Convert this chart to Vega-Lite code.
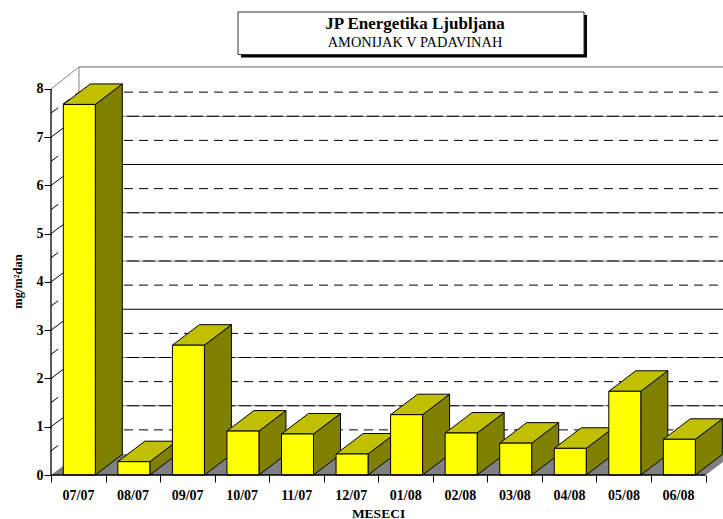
{
"$schema":"https://vega.github.io/schema/vega-lite/v6.json",
"autosize":{"type":"none"},
"padding":{"left":51,"top":60,"right":0,"bottom":44},
"width":672,"height":415,
"background":"white",
"view":{"stroke":null},
"title":{"text":"JP Energetika Ljubljana","subtitle":"AMONIJAK V PADAVINAH","font":"Liberation Serif","fontSize":17,"fontWeight":"bold","subtitleFont":"Liberation Serif","subtitleFontSize":14.4,"subtitleFontWeight":"normal","subtitleColor":"black","color":"black","anchor":"middle","frame":"group","dx":28,"offset":-39,"subtitlePadding":3},
"datasets":{
"bars":[
{"mesec":"07/07","v":7.68},{"mesec":"08/07","v":0.276},{"mesec":"09/07","v":2.69},{"mesec":"10/07","v":0.91},{"mesec":"11/07","v":0.85},{"mesec":"12/07","v":0.435},{"mesec":"01/08","v":1.25},{"mesec":"02/08","v":0.87},{"mesec":"03/08","v":0.66},{"mesec":"04/08","v":0.553},{"mesec":"05/08","v":1.735},{"mesec":"06/08","v":0.74}],
"half":[{"g":0.5},{"g":1.5},{"g":2.5},{"g":3.5},{"g":4.5},{"g":5.5},{"g":6.5},{"g":7.5}],
"whole":[{"g":1},{"g":2},{"g":3},{"g":4},{"g":5},{"g":6},{"g":7}],
"mix":[{"g":1},{"g":2},{"g":4},{"g":5},{"g":7}],
"solid":[{"g":3},{"g":6}]
},
"layer":[
{"data":{"values":[{"t":0},{"t":1}]},
 "transform":[{"calculate":"datum.t*0.435","as":"fy"},{"calculate":"datum.t*0.513","as":"fx"},{"calculate":"12+datum.t*0.513","as":"fx2"}],
 "mark":{"type":"area","orient":"horizontal","color":"#808080","clip":true},
 "encoding":{
  "y":{"field":"fy","type":"quantitative","scale":{"domain":[0,8.601],"nice":false,"zero":false},
   "axis":{"values":[0,1,2,3,4,5,6,7,8],"grid":false,"domain":false,"tickSize":7,"tickColor":"black","labelPadding":1,"labelFont":"Liberation Serif","labelFontSize":14,"labelFontWeight":"bold","labelColor":"black","title":"mg/m²dan","titleFont":"Liberation Serif","titleFontSize":12.5,"titleFontWeight":"bold","titleColor":"black","titleX":-27,"titleY":221}},
  "x":{"field":"fx","type":"quantitative","stack":null,"scale":{"domain":[0,12.319],"nice":false,"zero":false},
   "axis":{"values":[0,1,2,3,4,5,6,7,8,9,10,11,12],"grid":false,"domain":false,"tickSize":7,"tickColor":"black","labelPadding":6,"labelFont":"Liberation Serif","labelFontSize":14,"labelFontWeight":"bold","labelColor":"black","labelOffset":27,"labelOverlap":false,"labelFlush":false,"labelExpr":"['07/07','08/07','09/07','10/07','11/07','12/07','01/08','02/08','03/08','04/08','05/08','06/08',''][datum.value]","title":"MESECI","titleFont":"Liberation Serif","titleFontSize":13.5,"titleFontWeight":"bold","titleColor":"black","titleX":327,"titleY":31}},
  "x2":{"field":"fx2"}}},
{"data":{"name":"half"},
 "transform":[{"calculate":"datum.g+0.435","as":"wy"}],
 "mark":{"type":"rule","color":"black","strokeWidth":1,"strokeDash":[9,6]},
 "encoding":{"y":{"field":"wy","type":"quantitative","scale":{"domain":[0,8.601],"nice":false,"zero":false}},"x":{"datum":0.513,"type":"quantitative","scale":{"domain":[0,12.319],"nice":false,"zero":false}},"x2":{"datum":12.319}}},
{"data":{"name":"solid"},
 "transform":[{"calculate":"datum.g+0.435","as":"wy"}],
 "mark":{"type":"rule","color":"black","strokeWidth":1},
 "encoding":{"y":{"field":"wy","type":"quantitative","scale":{"domain":[0,8.601],"nice":false,"zero":false}},"x":{"datum":0.513,"type":"quantitative","scale":{"domain":[0,12.319],"nice":false,"zero":false}},"x2":{"datum":12.319}}},
{"data":{"name":"mix"},
 "transform":[{"calculate":"datum.g+0.435","as":"wy"}],
 "mark":{"type":"rule","color":"#808080","strokeWidth":1},
 "encoding":{"y":{"field":"wy","type":"quantitative","scale":{"domain":[0,8.601],"nice":false,"zero":false}},"x":{"datum":0.513,"type":"quantitative","scale":{"domain":[0,12.319],"nice":false,"zero":false}},"x2":{"datum":12.319}}},
{"data":{"name":"mix"},
 "transform":[{"calculate":"datum.g+0.435","as":"wy"}],
 "mark":{"type":"rule","color":"black","strokeWidth":1,"strokeDash":[12,4]},
 "encoding":{"y":{"field":"wy","type":"quantitative","scale":{"domain":[0,8.601],"nice":false,"zero":false}},"x":{"datum":0.513,"type":"quantitative","scale":{"domain":[0,12.319],"nice":false,"zero":false}},"x2":{"datum":12.319}}},
{"data":{"name":"half"},
 "transform":[{"calculate":"datum.g+0.435","as":"wy"}],
 "mark":{"type":"rule","color":"black","strokeWidth":1,"strokeDash":[9,6]},
 "encoding":{"y":{"field":"g","type":"quantitative","scale":{"domain":[0,8.601],"nice":false,"zero":false}},"y2":{"field":"wy"},"x":{"datum":0,"type":"quantitative","scale":{"domain":[0,12.319],"nice":false,"zero":false}},"x2":{"datum":0.513}}},
{"data":{"name":"whole"},
 "transform":[{"calculate":"datum.g+0.435","as":"wy"}],
 "mark":{"type":"rule","color":"black","strokeWidth":1},
 "encoding":{"y":{"field":"g","type":"quantitative","scale":{"domain":[0,8.601],"nice":false,"zero":false}},"y2":{"field":"wy"},"x":{"datum":0,"type":"quantitative","scale":{"domain":[0,12.319],"nice":false,"zero":false}},"x2":{"datum":0.513}}},
{"data":{"values":[{"k":"top"}]},
 "mark":{"type":"rule","color":"#666666","strokeWidth":1.2},
 "encoding":{"y":{"datum":8.456,"type":"quantitative","scale":{"domain":[0,8.601],"nice":false,"zero":false}},"x":{"datum":0.513,"type":"quantitative","scale":{"domain":[0,12.319],"nice":false,"zero":false}},"x2":{"datum":12.319}}},
{"data":{"values":[{"k":"back"}]},
 "mark":{"type":"rule","color":"#808080","strokeWidth":1},
 "encoding":{"y":{"datum":0.435,"type":"quantitative","scale":{"domain":[0,8.601],"nice":false,"zero":false}},"y2":{"datum":8.456},"x":{"datum":0.513,"type":"quantitative","scale":{"domain":[0,12.319],"nice":false,"zero":false}}}},
{"data":{"values":[{"k":"edge"}]},
 "mark":{"type":"rule","color":"#808080","strokeWidth":1},
 "encoding":{"y":{"datum":8,"type":"quantitative","scale":{"domain":[0,8.601],"nice":false,"zero":false}},"y2":{"datum":8.456},"x":{"datum":0,"type":"quantitative","scale":{"domain":[0,12.319],"nice":false,"zero":false}},"x2":{"datum":0.513}}},
{"data":{"name":"bars"},
 "transform":[{"window":[{"op":"row_number","as":"n"}]},{"calculate":"0","as":"a"},{"calculate":"1","as":"b"},{"fold":["a","b"],"as":["fk","t"]},
  {"calculate":"datum.n-1+0.2255+0.5866+datum.t*0.495","as":"sx"},{"calculate":"datum.t*0.425","as":"sy0"},{"calculate":"datum.v+datum.t*0.425","as":"sy1"}],
 "mark":{"type":"area","color":"#808000","stroke":"black","strokeWidth":1},
 "encoding":{"x":{"field":"sx","type":"quantitative","scale":{"domain":[0,12.319],"nice":false,"zero":false}},"y":{"field":"sy1","type":"quantitative","stack":null,"scale":{"domain":[0,8.601],"nice":false,"zero":false}},"y2":{"field":"sy0"},"detail":{"field":"mesec"}}},
{"data":{"name":"bars"},
 "transform":[{"window":[{"op":"row_number","as":"n"}]},{"calculate":"0","as":"a"},{"calculate":"1","as":"b"},{"fold":["a","b"],"as":["fk","t"]},
  {"calculate":"datum.n-1+0.2255+datum.t*0.495","as":"tx0"},{"calculate":"datum.n-1+0.2255+0.5866+datum.t*0.495","as":"tx1"},{"calculate":"datum.v+datum.t*0.425","as":"ty"}],
 "mark":{"type":"area","orient":"horizontal","color":"#C0C000","stroke":"black","strokeWidth":1},
 "encoding":{"y":{"field":"ty","type":"quantitative","scale":{"domain":[0,8.601],"nice":false,"zero":false}},"x":{"field":"tx0","type":"quantitative","stack":null,"scale":{"domain":[0,12.319],"nice":false,"zero":false}},"x2":{"field":"tx1"},"detail":{"field":"mesec"}}},
{"data":{"name":"bars"},
 "transform":[{"window":[{"op":"row_number","as":"n"}]},{"calculate":"datum.n-1+0.2255","as":"x0"},{"calculate":"datum.n-1+0.2255+0.5866","as":"x1"}],
 "mark":{"type":"rect","color":"#FFFF00","stroke":"black","strokeWidth":1},
 "encoding":{"x":{"field":"x0","type":"quantitative","scale":{"domain":[0,12.319],"nice":false,"zero":false}},"x2":{"field":"x1"},"y":{"field":"v","type":"quantitative","scale":{"domain":[0,8.601],"nice":false,"zero":false}},"y2":{"datum":0}}},
{"data":{"values":[{"k":"y"}]},
 "mark":{"type":"rule","color":"black","strokeWidth":1.3},
 "encoding":{"y":{"datum":0,"type":"quantitative","scale":{"domain":[0,8.601],"nice":false,"zero":false}},"y2":{"datum":8},"x":{"datum":0,"type":"quantitative","scale":{"domain":[0,12.319],"nice":false,"zero":false}}}},
{"data":{"values":[{"k":"x"}]},
 "mark":{"type":"rule","color":"black","strokeWidth":1.3},
 "encoding":{"y":{"datum":0,"type":"quantitative","scale":{"domain":[0,8.601],"nice":false,"zero":false}},"x":{"datum":0,"type":"quantitative","scale":{"domain":[0,12.319],"nice":false,"zero":false}},"x2":{"datum":12}}},
{"data":{"values":[{"k":"shadow"}]},
 "mark":{"type":"rect","color":"black"},
 "encoding":{"x":{"datum":3.483,"type":"quantitative","scale":{"domain":[0,12.319],"nice":false,"zero":false}},"x2":{"datum":9.826},"y":{"datum":9.534,"type":"quantitative","scale":{"domain":[0,8.601],"nice":false,"zero":false}},"y2":{"datum":8.653}}},
{"data":{"values":[{"k":"box"}]},
 "mark":{"type":"rect","color":"white","stroke":"#333333","strokeWidth":1},
 "encoding":{"x":{"datum":3.428,"type":"quantitative","scale":{"domain":[0,12.319],"nice":false,"zero":false}},"x2":{"datum":9.771},"y":{"datum":9.596,"type":"quantitative","scale":{"domain":[0,8.601],"nice":false,"zero":false}},"y2":{"datum":8.715}}}
]
}
